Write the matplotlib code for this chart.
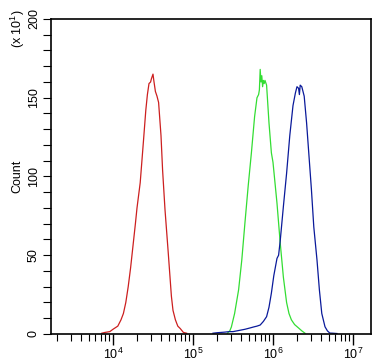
import numpy as np
import matplotlib
matplotlib.use("Agg")
import matplotlib.pyplot as plt
from matplotlib.ticker import LogLocator, MultipleLocator, NullFormatter

plt.rcParams['font.family'] = ['Liberation Sans', 'DejaVu Sans']
plt.rcParams['mathtext.fontset'] = 'custom'
plt.rcParams['mathtext.rm'] = 'Liberation Sans'
plt.rcParams['mathtext.it'] = 'Liberation Sans:italic'

# histogram outlines: log10(intensity) vs count (x10)
red_logx = [3.86, 3.90, 3.96, 4.00, 4.03, 4.06, 4.10, 4.13, 4.16, 4.19, 4.22, 4.25,
            4.28, 4.30, 4.34, 4.38, 4.41, 4.43, 4.45, 4.47, 4.48, 4.50, 4.51, 4.53,
            4.55, 4.57, 4.60, 4.62, 4.65, 4.69, 4.73, 4.75, 4.78, 4.81, 4.84, 4.88, 4.92]
red_count = [0.5, 1.0, 1.5, 3.0, 4.0, 5.0, 9.0, 13.0, 20.0, 30.0, 42.0, 56.0,
             70.0, 80.0, 96.0, 122.0, 142.0, 152.0, 159.0, 160.0, 162.0, 165.0, 161.0, 154.0,
             151.0, 147.0, 126.0, 104.0, 79.0, 52.0, 24.0, 15.0, 9.0, 5.0, 3.5, 1.0, 0.5]

green_logx = [5.43, 5.46, 5.48, 5.52, 5.57, 5.61, 5.65, 5.69, 5.73, 5.77, 5.80, 5.82,
              5.83, 5.84, 5.85, 5.86, 5.87, 5.88, 5.89, 5.90, 5.92, 5.93, 5.95, 5.98,
              6.00, 6.05, 6.09, 6.13, 6.17, 6.20, 6.23, 6.27, 6.32, 6.36, 6.40]
green_count = [0.5, 2.0, 4.5, 13.0, 28.0, 47.0, 71.0, 94.0, 115.0, 138.0, 150.0, 152.0,
               155.0, 168.0, 160.0, 164.0, 157.0, 161.0, 159.0, 161.0, 158.0, 150.0, 134.0, 115.0,
               109.0, 83.0, 58.0, 36.0, 20.0, 13.0, 9.0, 6.0, 3.8, 2.0, 0.5]

blue_logx = [5.25, 5.30, 5.35, 5.40, 5.45, 5.50, 5.55, 5.60, 5.65, 5.71, 5.76, 5.80,
             5.84, 5.88, 5.92, 5.95, 5.98, 6.01, 6.05, 6.07, 6.09, 6.13, 6.17, 6.21,
             6.25, 6.28, 6.30, 6.32, 6.33, 6.34, 6.36, 6.39, 6.42, 6.45, 6.48, 6.51,
             6.55, 6.58, 6.61, 6.65, 6.68, 6.71, 6.75, 6.80]
blue_count = [0.5, 0.8, 1.0, 1.2, 1.5, 1.5, 2.0, 2.5, 3.0, 3.8, 4.5, 5.0,
              5.7, 8.0, 11.0, 17.0, 26.0, 37.0, 48.0, 50.0, 59.0, 81.0, 102.0, 126.0,
              145.0, 153.0, 157.0, 156.0, 152.0, 158.0, 157.0, 151.0, 134.0, 113.0, 92.0, 68.0,
              47.0, 28.0, 13.0, 4.6, 2.0, 0.6, 0.5, 0.3]

fig = plt.figure(figsize=(3.89, 3.61), dpi=100)
ax = fig.add_axes([0.1311, 0.0748, 0.8226, 0.8726])

ax.plot(10 ** np.array(red_logx), red_count, color='#cc1f1f', lw=0.9)
ax.plot(10 ** np.array(green_logx), green_count, color='#33dd33', lw=0.9)
ax.plot(10 ** np.array(blue_logx), blue_count, color='#0a1a9a', lw=0.9)

ax.set_xscale('log')
ax.set_xlim(10 ** 3.225, 10 ** 7.225)
ax.set_ylim(0, 200)

ax.xaxis.set_major_locator(LogLocator(base=10, numticks=10))
ax.xaxis.set_minor_locator(LogLocator(base=10, subs=np.arange(2, 10), numticks=20))
ax.xaxis.set_minor_formatter(NullFormatter())
ax.yaxis.set_major_locator(MultipleLocator(50))
ax.yaxis.set_minor_locator(MultipleLocator(10))

ax.tick_params(axis='x', which='major', length=8, width=1, labelsize=9, pad=1)
ax.tick_params(axis='x', which='minor', length=5, width=0.8)
ax.tick_params(axis='y', which='both', length=6, width=0.8, labelsize=9, pad=2)
for lbl in ax.get_yticklabels():
    lbl.set_rotation(90)
    lbl.set_va('center')

for s in ax.spines.values():
    s.set_linewidth(1.2)

ax.set_ylabel('Count', fontsize=9, labelpad=3)
fig.text(0.047, 0.975, r'(x 10$^1$)', rotation=90, fontsize=9, ha='center', va='top')

fig.savefig('out.png', dpi=100)
